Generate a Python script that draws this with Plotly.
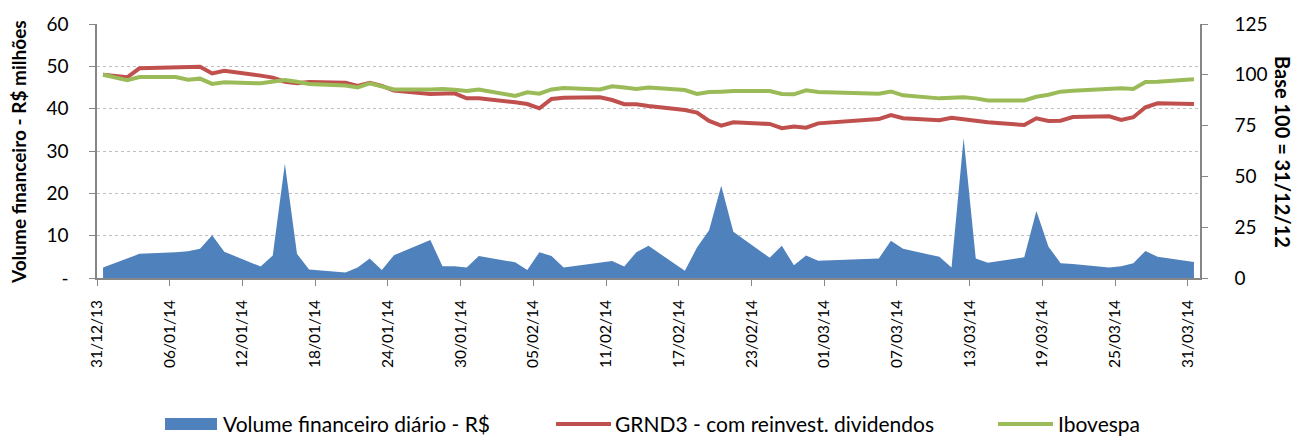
import pandas as pd
import plotly.graph_objects as go

dates = [
    "2013-12-31", "2014-01-02", "2014-01-03", "2014-01-06", "2014-01-07", "2014-01-08",
    "2014-01-09", "2014-01-10", "2014-01-13", "2014-01-14", "2014-01-15", "2014-01-16",
    "2014-01-17", "2014-01-20", "2014-01-21", "2014-01-22", "2014-01-23", "2014-01-24",
    "2014-01-27", "2014-01-28", "2014-01-29", "2014-01-30", "2014-01-31", "2014-02-03",
    "2014-02-04", "2014-02-05", "2014-02-06", "2014-02-07", "2014-02-10", "2014-02-11",
    "2014-02-12", "2014-02-13", "2014-02-14", "2014-02-17", "2014-02-18", "2014-02-19",
    "2014-02-20", "2014-02-21", "2014-02-24", "2014-02-25", "2014-02-26", "2014-02-27",
    "2014-02-28", "2014-03-05", "2014-03-06", "2014-03-07", "2014-03-10", "2014-03-11",
    "2014-03-12", "2014-03-13", "2014-03-14", "2014-03-17", "2014-03-18", "2014-03-19",
    "2014-03-20", "2014-03-21", "2014-03-24", "2014-03-25", "2014-03-26", "2014-03-27",
    "2014-03-28", "2014-03-31",
]

volume = [
    2.5, 4.6, 5.7, 6.1, 6.3, 6.9, 10.1, 6.2, 2.7, 5.3, 27.0, 5.7, 2.0, 1.3, 2.5, 4.6,
    1.9, 5.4, 9.0, 2.8, 2.8, 2.5, 5.2, 3.7, 1.9, 6.1, 5.2, 2.5, 3.7, 4.0, 2.7, 6.1,
    7.6, 1.7, 7.2, 11.3, 21.8, 10.9, 4.8, 7.6, 3.0, 5.3, 4.1, 4.6, 8.8, 6.9, 5.0, 2.5,
    33.1, 4.6, 3.6, 4.9, 15.8, 7.4, 3.5, 3.3, 2.5, 2.8, 3.5, 6.4, 5.0, 3.8,
]

grnd3 = [
    100, 98.8, 103.2, 103.5, 104.0, 104.0, 100.7, 102.0, 99.6, 98.6, 96.6, 95.8, 96.5,
    96.1, 94.5, 96.1, 94.5, 92.2, 90.6, 90.6, 90.9, 88.4, 88.4, 86.5, 85.6, 83.5, 88.1,
    88.7, 88.9, 87.6, 85.5, 85.5, 84.6, 82.7, 81.4, 77.3, 75.0, 76.6, 75.8, 73.7, 74.5,
    74.0, 76.1, 78.2, 80.2, 78.6, 77.6, 78.9, 78.2, 77.3, 76.6, 75.3, 78.6, 77.3, 77.4,
    79.2, 79.6, 77.8, 79.1, 84.0, 86.0, 85.6,
]

ibovespa = [
    100, 97.4, 98.9, 98.9, 97.6, 98.1, 95.5, 96.3, 95.8, 96.5, 97.4, 96.6, 95.5, 94.7,
    93.8, 95.8, 94.2, 92.8, 92.8, 93.0, 92.6, 92.0, 92.8, 89.6, 91.4, 90.7, 92.8, 93.5,
    92.8, 94.3, 93.8, 93.0, 93.7, 92.5, 90.6, 91.5, 91.7, 92.0, 92.0, 90.6, 90.4, 92.4,
    91.5, 90.7, 91.8, 89.9, 88.4, 88.6, 88.9, 88.4, 87.4, 87.4, 89.2, 90.2, 91.7, 92.2,
    93.0, 93.4, 93.0, 96.5, 96.6, 97.8,
]

left_ticks = [0, 10, 20, 30, 40, 50, 60]
left_ticktext = ["-", "10", "20", "30", "40", "50", "60"]
right_ticks = [0, 25, 50, 75, 100, 125]

names = ["Volume financeiro diário - R$", "GRND3 - com reinvest. dividendos", "Ibovespa"]
colors = ["#4F81BD", "#C0504D", "#9BBB59"]

# Excel date axis places each day's point in the middle of its day slot
x = pd.to_datetime(dates) + pd.Timedelta(hours=12)

FONT = "Lato"
AX = "#868686"

fig = go.Figure()
fig.add_trace(go.Scatter(x=x, y=volume, name=names[0], mode="lines", fill="tozeroy",
                         line=dict(width=0, color=colors[0]), fillcolor=colors[0],
                         showlegend=False, yaxis="y"))
fig.add_trace(go.Scatter(x=x, y=grnd3, name=names[1], mode="lines",
                         line=dict(width=4, color=colors[1]), showlegend=False, yaxis="y2"))
fig.add_trace(go.Scatter(x=x, y=ibovespa, name=names[2], mode="lines",
                         line=dict(width=4, color=colors[2]), showlegend=False, yaxis="y2"))

fig.update_layout(
    width=1301, height=437,
    margin=dict(l=97, r=101, t=24, b=159),
    paper_bgcolor="white", plot_bgcolor="white",
    font=dict(family=FONT, size=17, color="black"),
    xaxis=dict(
        type="date", range=["2013-12-31", "2014-04-01"],
        tick0="2013-12-31", dtick=6 * 86400000, tickformat="%d/%m/%y",
        tickangle=-90, ticks="outside", ticklen=6, tickcolor=AX,
        showline=True, linecolor=AX, linewidth=1.5, showgrid=False, zeroline=False,
        tickfont=dict(family=FONT, size=15.5), ticklabelstandoff=8,
    ),
    yaxis=dict(
        range=[0, 60], tickvals=left_ticks, ticktext=left_ticktext,
        showgrid=True, gridcolor="#BFBFBF", griddash="dot", gridwidth=1,
        showline=True, linecolor=AX, linewidth=1.5, ticks="outside", ticklen=6,
        tickcolor=AX, zeroline=False, ticklabelstandoff=17,
        tickfont=dict(family=FONT, size=19),
    ),
    yaxis2=dict(
        range=[0, 125], tickvals=right_ticks, overlaying="y", side="right",
        showgrid=False, showline=True, linecolor=AX, linewidth=1.5, ticks="outside",
        ticklen=6, tickcolor=AX, zeroline=False, ticklabelstandoff=23,
        tickfont=dict(family=FONT, size=19),
    ),
)

# plot-area pixel helpers for titles / legend placement
L, R, T, B = 97, 1200, 24, 278
px = lambda v: (v - L) / (R - L)
py = lambda v: (B - v) / (B - T)

fig.add_annotation(x=px(18), y=py(152), xref="paper", yref="paper", showarrow=False,
                   text="<b>Volume financeiro - R$ milhões</b>", textangle=-90,
                   xanchor="center", yanchor="middle",
                   font=dict(family=FONT, size=19))
fig.add_annotation(x=px(1283), y=py(152), xref="paper", yref="paper", showarrow=False,
                   text="<b>Base 100 = 31/12/12</b>", textangle=90,
                   xanchor="center", yanchor="middle",
                   font=dict(family=FONT, size=20))

# legend
ly = 424
fig.add_shape(type="rect", xref="paper", yref="paper", x0=px(165), x1=px(217),
              y0=py(ly - 6), y1=py(ly + 6), fillcolor=colors[0], line=dict(width=0))
fig.add_shape(type="line", xref="paper", yref="paper", x0=px(556), x1=px(611),
              y0=py(ly), y1=py(ly), line=dict(color=colors[1], width=4))
fig.add_shape(type="line", xref="paper", yref="paper", x0=px(998), x1=px(1053),
              y0=py(ly), y1=py(ly), line=dict(color=colors[2], width=4))
for xl, t in [(221, names[0]), (613, names[1]), (1056, names[2])]:
    fig.add_annotation(x=px(xl), y=py(ly), xref="paper", yref="paper", showarrow=False,
                       text=t, xanchor="left", yanchor="middle",
                       font=dict(family=FONT, size=21))

fig.write_html("out.html", config={"displayModeBar": False},
               post_script="document.body.style.margin='0';document.body.style.overflow='hidden';")
